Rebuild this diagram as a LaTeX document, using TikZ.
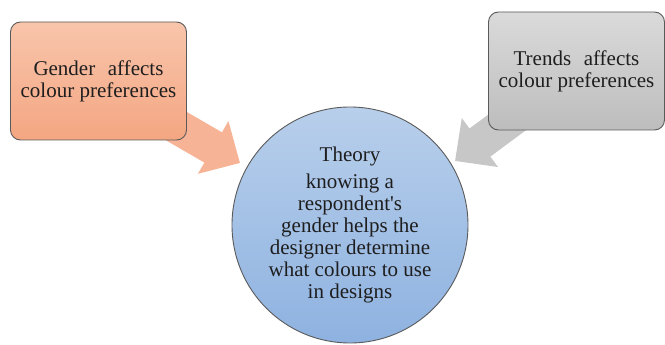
\documentclass[tikz,border=0pt]{standalone}
\usepackage{fontspec}
\setmainfont{Liberation Serif}
\usepackage{xcolor}
\usepackage{tikz}
\usetikzlibrary{arrows.meta,backgrounds}
\definecolor{genderTop}{HTML}{F8C5AB}
\definecolor{genderBot}{HTML}{F4A682}
\definecolor{trendTop}{HTML}{DADADA}
\definecolor{trendBot}{HTML}{BDBDBD}
\definecolor{theoryTop}{HTML}{B8CFEB}
\definecolor{theoryBot}{HTML}{8EB2E0}
\definecolor{edgeGray}{HTML}{5A5A5A}
\definecolor{inkGray}{HTML}{1E1E1E}

\begin{document}
\begin{tikzpicture}[x=1pt, y=-1pt,
  every node/.style={text=inkGray, font=\fontsize{21}{22}\selectfont},
  factorbox/.style={draw=edgeGray, line width=0.9pt, rounded corners=10pt, minimum width=176pt, minimum height=118pt, inner sep=0pt, align=center},
  blockarrow/.style={line width=35pt, -{Triangle[length=31pt, width=59pt]}}]
  \useasboundingbox (0,0) rectangle (665,345);
  \node[factorbox, top color=genderTop, bottom color=genderBot] (gender) at (98.5,81) {Gender\hspace{0.6em}affects\\colour preferences};
  \node[factorbox, top color=trendTop, bottom color=trendBot] (trend) at (576.5,71) {Trends\hspace{0.6em}affects\\colour preferences};
  \node[draw=edgeGray, line width=0.9pt, circle, minimum size=236pt, inner sep=0pt, align=center, top color=theoryTop, bottom color=theoryBot] (theory) at (350,225)
    {\fontsize{21}{21.5}\selectfont Theory\\[5pt] knowing a\\ respondent\textquotesingle s\\ gender helps the\\ designer determine\\ what colours to use\\ in designs};
  \coordinate (gendertip) at (240,163);
  \coordinate (trendtip) at (455,161);

  \begin{scope}[on background layer]
    \draw[blockarrow, draw=genderBot!85!white] (gender.center) -- (gendertip);
    \draw[blockarrow, draw=trendBot!85!white] (trend.center) -- (trendtip);
  \end{scope}
\end{tikzpicture}
\end{document}
